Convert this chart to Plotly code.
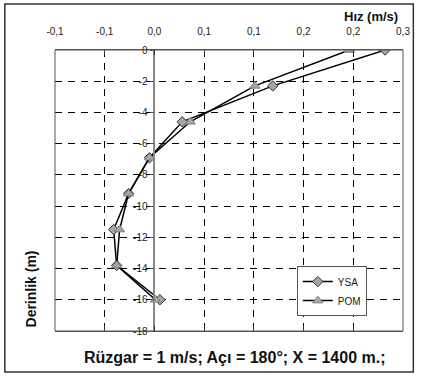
import plotly.graph_objects as go

# Data
depth = [0, -2.3, -4.6, -6.9, -9.2, -11.5, -13.8, -16.0]
ysa = [0.232, 0.119, 0.028, -0.005, -0.026, -0.041, -0.038, 0.0055]
pom = [0.196, 0.101, 0.036, -0.005, -0.026, -0.035, -0.038, 0.001]
x_tickvals = [-0.1, -0.05, 0.0, 0.05, 0.1, 0.15, 0.2, 0.25]
x_ticktext = ["-0,1", "-0,1", "0,0", "0,1", "0,1", "0,2", "0,2", "0,3"]
y_tickvals = [0, -2, -4, -6, -8, -10, -12, -14, -16, -18]
y_ticktext = ["0", "-2", "-4", "-6", "-8", "-10", "-12", "-14", "-16", "-18"]

W, H = 422, 378
L, R, T, B = 55, 409, 49.5, 331
FONT = "Arial, Liberation Sans, sans-serif"

def px(xp):
    return (xp - L) / (R - L)

def py(yp):
    return (B - yp) / (B - T)

fig = go.Figure()
fig.add_trace(go.Scatter(
    x=ysa, y=depth, name="YSA", mode="lines+markers",
    line=dict(color="black", width=1.5),
    marker=dict(symbol="diamond", size=8, color="#a6a6a6",
                line=dict(color="#333333", width=1)),
))
fig.add_trace(go.Scatter(
    x=pom, y=depth, name="POM", mode="lines+markers",
    line=dict(color="black", width=1.5),
    marker=dict(symbol="triangle-up", size=9, color="#a6a6a6",
                line=dict(color="#808080", width=1)),
))

fig.update_layout(
    width=W, height=H,
    margin=dict(l=L, r=W - R, t=T, b=H - B),
    paper_bgcolor="white", plot_bgcolor="white",
    font=dict(family=FONT, size=10, color="#222"),
    showlegend=True,
    legend=dict(x=px(301), y=py(266), xanchor="left", yanchor="top",
                bgcolor="white", bordercolor="#555", borderwidth=1,
                font=dict(size=10, color="#222"), itemwidth=30,
                tracegroupgap=2),
    xaxis=dict(
        range=[-0.1, 0.25], side="top",
        tickvals=x_tickvals, ticktext=x_ticktext,
        ticks="inside", ticklen=5, tickcolor="#333",
        ticklabelstandoff=10,
        showgrid=True, gridcolor="black", gridwidth=1, griddash="7px,6px",
        showline=True, linecolor="#555", linewidth=1, mirror="ticks",
        zeroline=False, tickfont=dict(size=10, color="#222"),
    ),
    yaxis=dict(
        range=[-18, 0], anchor="free", position=px(156),
        tickvals=y_tickvals, ticktext=y_ticktext,
        ticks="outside", ticklen=4, tickcolor="#555",
        showgrid=True, gridcolor="black", gridwidth=1, griddash="7px,6px",
        showline=True, linecolor="#888", linewidth=1.5,
        zeroline=False, tickfont=dict(size=10, color="#222"),
    ),
    shapes=[
        # plot border
        dict(type="rect", xref="paper", yref="paper", x0=0, x1=1, y0=0, y1=1,
             line=dict(color="#555", width=1), layer="above"),
        # outer border
        dict(type="rect", xref="paper", yref="paper",
             x0=px(4), x1=px(419.5), y0=py(372), y1=py(3.5),
             line=dict(color="#333", width=1.5)),
    ],
    annotations=[
        dict(text="<b>Hız (m/s)</b>", xref="paper", yref="paper",
             x=px(406), y=py(16), xanchor="right", yanchor="middle",
             showarrow=False, font=dict(size=13, color="#111")),
        dict(text="<b>Rüzgar = 1 m/s; Açı = 180°; X = 1400 m.;</b>",
             xref="paper", yref="paper", x=px(238), y=py(358),
             xanchor="center", yanchor="middle", showarrow=False,
             font=dict(size=16, color="#111")),
        dict(text="<b>Derinlik (m)</b>", xref="paper", yref="paper",
             x=px(31), y=py(289), xanchor="center", yanchor="middle",
             textangle=-90, showarrow=False,
             font=dict(size=14, color="#111")),
    ],
)

fig.write_html("out.html")
